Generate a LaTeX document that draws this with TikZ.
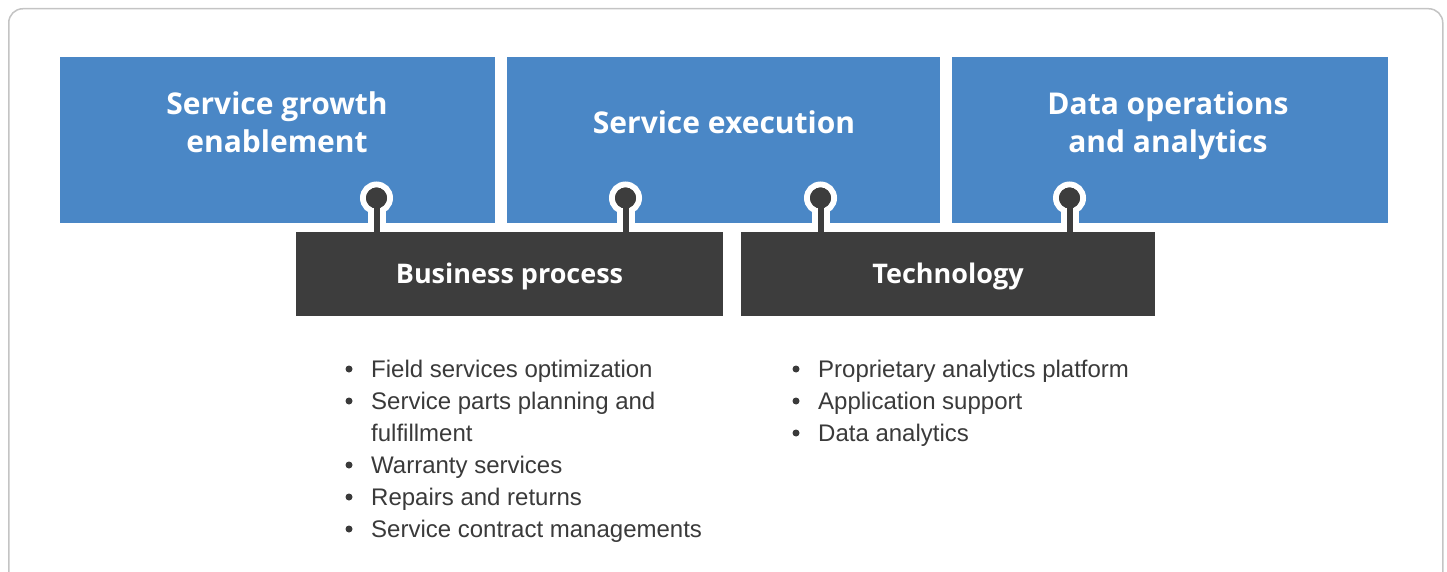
\documentclass[tikz,border=0pt]{standalone}
\usepackage{fontspec}
\setmainfont{Liberation Sans}
\newfontfamily\titlefont{Open Sans}
\definecolor{boxblue}{HTML}{4A87C6}
\definecolor{boxdark}{HTML}{3D3D3D}
\definecolor{txtgray}{HTML}{3A3A3A}
\definecolor{framegray}{HTML}{C4C4C4}
\begin{document}
\begin{tikzpicture}[x=1pt,y=-1pt,
  bluebox/.style={fill=boxblue, draw=none, anchor=north west, inner sep=0pt},
  darkbox/.style={fill=boxdark, draw=none, anchor=north west, inner sep=0pt},
  titletext/.style={text=white, align=center, inner sep=0pt, anchor=base,
    font=\titlefont\bfseries\fontsize{30}{38}\selectfont},
  darktext/.style={text=white, inner sep=0pt, anchor=base,
    font=\titlefont\bfseries\fontsize{27}{32}\selectfont},
  knob/.style={circle, fill=boxdark, draw=white, line width=6pt, minimum size=27pt, inner sep=0pt},
  stemwhite/.style={draw=white, line width=18pt},
  stemdark/.style={draw=boxdark, line width=6pt},
  item/.style={anchor=base west, inner sep=0pt, text=txtgray, align=left,
    font=\fontsize{24}{32}\selectfont},
  bul/.style={circle, fill=txtgray, inner sep=0pt, minimum size=7pt}
]
\useasboundingbox (0,0) rectangle (1447,572);
\begin{scope}
\clip (0,0) rectangle (1447,572);
\node[draw=framegray, line width=1.5pt, rounded corners=14pt, fill=white, minimum width=1434pt, minimum height=600pt, anchor=north west, inner sep=0pt] (frame) at (8,8) {};
\end{scope}
% blue boxes
\node[bluebox, minimum width=435pt, minimum height=166pt] (g) at (60,57) {};
\node[bluebox, minimum width=433pt, minimum height=166pt] (e) at (507,57) {};
\node[bluebox, minimum width=436pt, minimum height=166pt] (d) at (952,57) {};
\node[titletext] (gt) at (277,153) {Service growth\\enablement};
\node[titletext] (et) at (724,134) {Service execution};
\node[titletext] (dt) at (1168,153) {Data operations\\and analytics};
% knob positions
\coordinate (k1c) at (376.5,198);
\coordinate (k2c) at (625.5,198);
\coordinate (k3c) at (820.5,198);
\coordinate (k4c) at (1069.5,198);
% dark boxes
\node[darkbox, minimum width=427pt, minimum height=84pt] (bp) at (296,232) {};
\node[darkbox, minimum width=414pt, minimum height=84pt] (tc) at (741,232) {};
% white halos
\draw[stemwhite] (k1c) -- (k1c |- bp.north);
\draw[stemwhite] (k2c) -- (k2c |- bp.north);
\draw[stemwhite] (k3c) -- (k3c |- tc.north);
\draw[stemwhite] (k4c) -- (k4c |- tc.north);
\node[knob] (k1) at (k1c) {};
\node[knob] (k2) at (k2c) {};
\node[knob] (k3) at (k3c) {};
\node[knob] (k4) at (k4c) {};
\draw[stemdark] (k1.center) -- (k1 |- bp.north) -- ++(0,4);
\draw[stemdark] (k2.center) -- (k2 |- bp.north) -- ++(0,4);
\draw[stemdark] (k3.center) -- (k3 |- tc.north) -- ++(0,4);
\draw[stemdark] (k4.center) -- (k4 |- tc.north) -- ++(0,4);
\fill[boxdark] (k1c) circle (10.5pt);
\fill[boxdark] (k2c) circle (10.5pt);
\fill[boxdark] (k3c) circle (10.5pt);
\fill[boxdark] (k4c) circle (10.5pt);
\node[darktext] (bpt) at (509.5,283) {Business process};
\node[darktext] (tct) at (948,283) {Technology};
% bullet lists
\node[item] (a1) at (371,377) {Field services optimization};
\node[item] (a2) at (371,441) {Service parts planning and\\fulfillment};
\node[item] (a3) at (371,473) {Warranty services};
\node[item] (a4) at (371,505) {Repairs and returns};
\node[item] (a5) at (371,537) {Service contract managements};
\foreach \y in {369,401,465,497,529} \node[bul] at (349,\y) {};
\node[item] (b1) at (818,377) {Proprietary analytics platform};
\node[item] (b2) at (818,409) {Application support};
\node[item] (b3) at (818,441) {Data analytics};
\foreach \y in {369,401,433} \node[bul] at (796,\y) {};
\end{tikzpicture}
\end{document}
